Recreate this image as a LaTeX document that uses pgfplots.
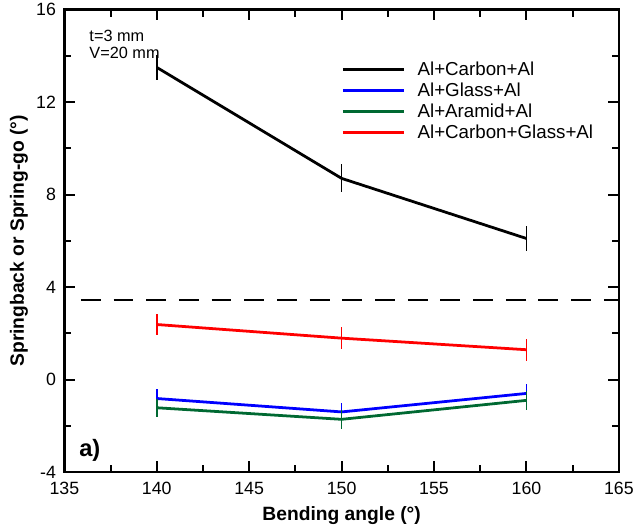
\documentclass[border=0pt]{standalone}
\usepackage{fontspec}
\setmainfont{Liberation Sans}
\usepackage{pgfplots}
\pgfplotsset{compat=1.18}

\definecolor{cblue}{RGB}{0,0,255}
\definecolor{cgreen}{RGB}{0,105,50}
\definecolor{cred}{RGB}{255,0,0}

\newcommand{\fs}[1]{\fontsize{#1}{#1}\selectfont}

\begin{document}
\begin{tikzpicture}
\begin{axis}[
  scale only axis,
  width=560bp, height=467bp,
  xmin=135, xmax=165, ymin=-4, ymax=16,
  xtick={135,140,...,165}, ytick={-4,0,...,16},
  minor x tick num=1, minor y tick num=1,
  tick align=inside,
  major tick length=11bp, minor tick length=7bp,
  axis line style={line width=2.5bp},
  every tick/.style={black, line width=2bp},
  tick label style={font=\fs{18}},
  xticklabel style={yshift=-7bp},
  yticklabel style={xshift=-5bp},
  /pgf/number format/assume math mode=true,
  xlabel={\textbf{Bending angle (°)}},
  ylabel={\textbf{Springback or Spring-go (°)}},
  label style={font=\fs{19.5}},
  xlabel style={at={(axis description cs:0.5,-0.094)}, anchor=center},
  ylabel style={at={(axis description cs:-0.082,0.5)}, anchor=center},
  legend style={draw=none, fill=none, font=\fs{19},
    at={(rel axis cs:0.494,0.895)}, anchor=north west,
    row sep=2bp},
  legend cell align=left,
  legend image code/.code={\draw[#1, line width=3bp] (0bp,0bp) -- (62bp,0bp);
    \path (72bp,0bp);},
  error bars/error mark=none,
  clip=false,
]
\addplot[black, line width=2.8bp, error bars/.cd, y dir=both, y explicit,
  error bar style={line width=1.6bp}]
  coordinates {(140,13.5) +- (0,0.55) (150,8.7) +- (0,0.6) (160,6.1) +- (0,0.55)};
\addplot[cblue, line width=2.8bp, error bars/.cd, y dir=both, y explicit,
  error bar style={line width=1.6bp}]
  coordinates {(140,-0.82) +- (0,0.4) (150,-1.4) +- (0,0.4) (160,-0.6) +- (0,0.4)};
\addplot[cgreen, line width=2.8bp, error bars/.cd, y dir=both, y explicit,
  error bar style={line width=1.6bp}]
  coordinates {(140,-1.22) +- (0,0.4) (150,-1.72) +- (0,0.4) (160,-0.9) +- (0,0.4)};
\addplot[cred, line width=2.8bp, error bars/.cd, y dir=both, y explicit,
  error bar style={line width=1.6bp}]
  coordinates {(140,2.38) +- (0,0.47) (150,1.79) +- (0,0.48) (160,1.29) +- (0,0.48)};
\addplot[black, line width=1.5bp, dash pattern=on 20bp off 13bp, forget plot]
  coordinates {(135.9,3.45) (165,3.45)};
\legend{Al+Carbon+Al, Al+Glass+Al, Al+Aramid+Al, Al+Carbon+Glass+Al}
\node[anchor=north west, align=left, font=\fs{16.5}, inner sep=0pt]
  at (rel axis cs:0.045,0.955) {t=3 mm\\V=20 mm};
\node[anchor=west, font=\fs{24}\bfseries, inner sep=0pt] at (axis cs:135.8,-3.05) {a)};
\path (axis description cs:-0.116,0.5);
\end{axis}
\end{tikzpicture}
\end{document}
